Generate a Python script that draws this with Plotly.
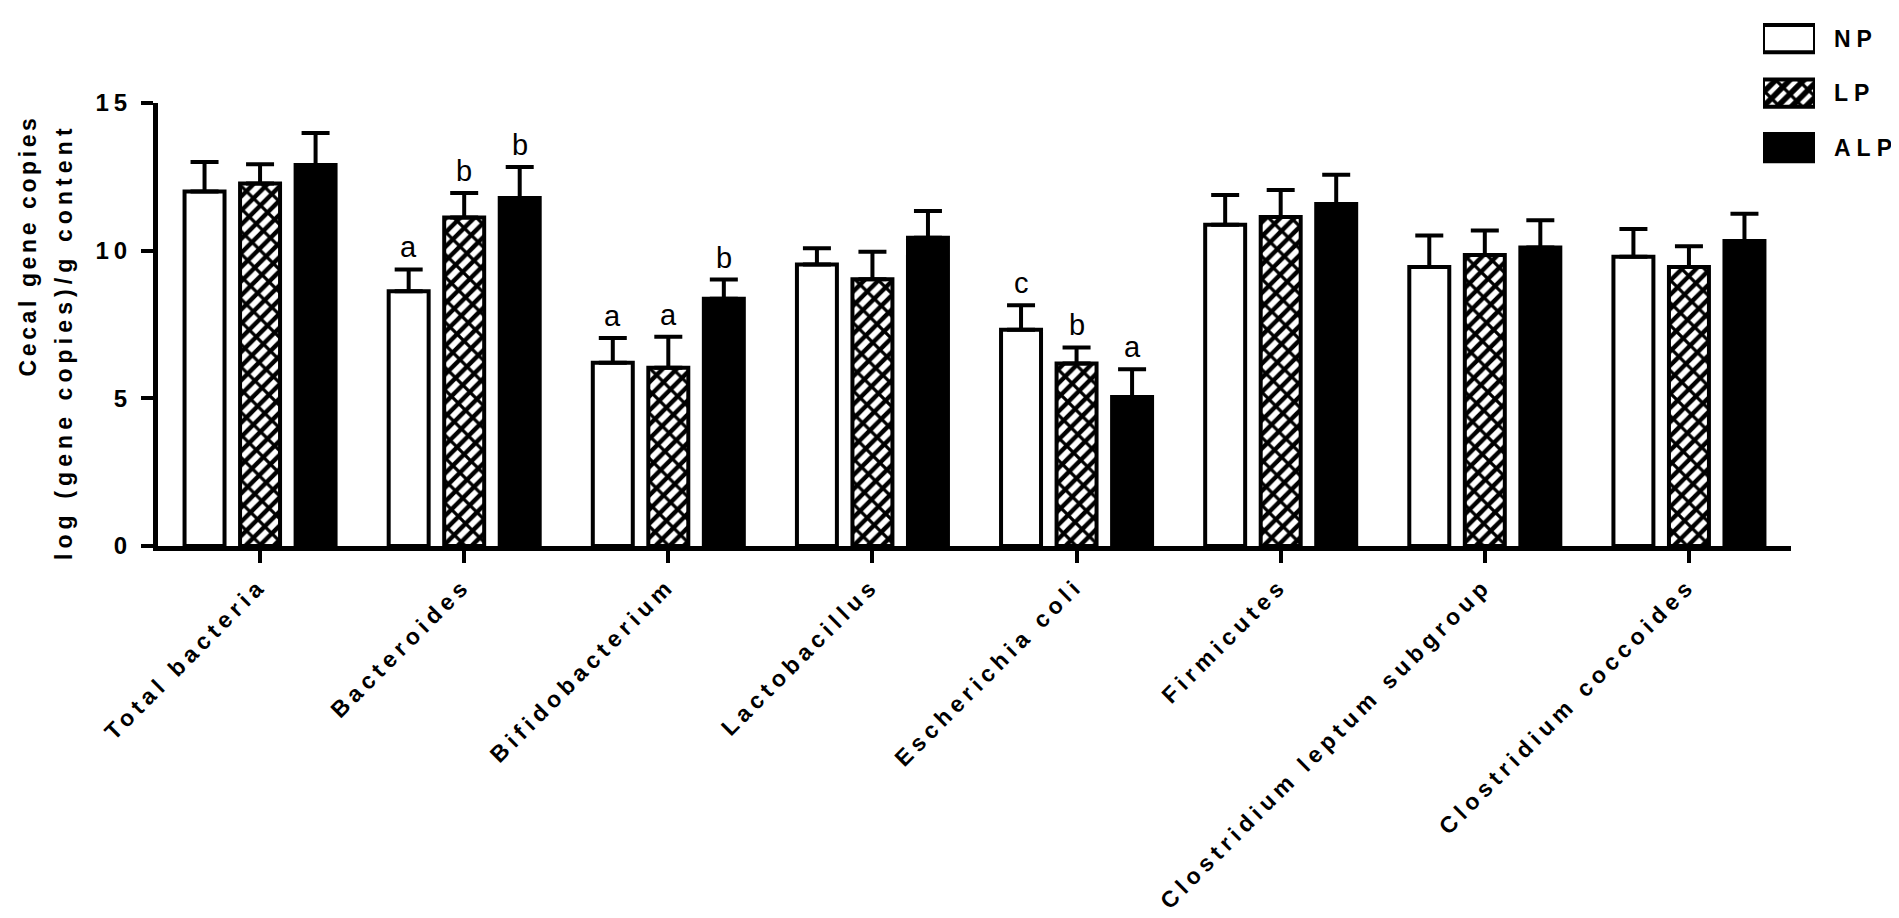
import plotly.graph_objects as go

# cecal bacteria, log(gene copies)/g content, mean and upper SD
categories = ["Total bacteria", "Bacteroides", "Bifidobacterium", "Lactobacillus",
              "Escherichia coli", "Firmicutes", "Clostridium leptum subgroup",
              "Clostridium coccoides"]
groups = ["NP", "LP", "ALP"]

np_mean = [12.0, 8.62, 6.20, 9.53, 7.32, 10.87, 9.44, 9.79]
np_err = [1.0, 0.74, 0.84, 0.55, 0.83, 1.01, 1.07, 0.94]
lp_mean = [12.27, 11.12, 6.03, 9.03, 6.18, 11.14, 9.85, 9.44]
lp_err = [0.65, 0.83, 1.05, 0.93, 0.54, 0.91, 0.83, 0.71]
alp_mean = [12.9, 11.78, 8.37, 10.43, 5.04, 11.58, 10.10, 10.32]
alp_err = [1.08, 1.05, 0.65, 0.91, 0.94, 0.99, 0.93, 0.93]

# significance letters
np_sig = ["", "a", "a", "", "c", "", "", ""]
lp_sig = ["", "b", "a", "", "b", "", "", ""]
alp_sig = ["", "b", "b", "", "a", "", "", ""]

FONT = "Liberation Sans, Arial, sans-serif"
BARGAP = 0.184
outline = dict(color="black", width=4)
brick = dict(shape="/", fgcolor="white", bgcolor="black", size=10, solidity=0.55,
             fillmode="replace")
brick_cut = dict(shape="\\", fgcolor="black", size=16, solidity=0.2, fillmode="replace")
err_style = dict(type="data", symmetric=False, color="black", thickness=4, width=14)

fig = go.Figure()

fig.add_trace(go.Bar(x=categories, y=np_mean, offsetgroup="np",
                     marker=dict(color="white", line=outline),
                     error_y=dict(array=np_err, arrayminus=[0] * 8, **err_style)))
fig.add_trace(go.Bar(x=categories, y=lp_mean, offsetgroup="lp",
                     marker=dict(color="black", line=outline, pattern=brick),
                     error_y=dict(array=lp_err, arrayminus=[0] * 8, **err_style)))
# second layer of the LP hatch, cuts the white stripes into bricks
fig.add_trace(go.Bar(x=categories, y=lp_mean, offsetgroup="lp",
                     marker=dict(color="rgba(0,0,0,0)", line=dict(width=0), pattern=brick_cut)))
fig.add_trace(go.Bar(x=categories, y=alp_mean, offsetgroup="alp",
                     marker=dict(color="black", line=outline),
                     error_y=dict(array=alp_err, arrayminus=[0] * 8, **err_style)))

# legend drawn as a tiny subplot so the swatches can be big
fig.add_trace(go.Bar(x=[1, 1, 1], y=groups, orientation="h", xaxis="x2", yaxis="y2",
                     offset=-0.25, width=0.5,
                     marker=dict(color=["white", "black", "black"], line=outline,
                                 pattern=dict(shape=["", "/", ""], fgcolor="white",
                                              bgcolor="black", size=10, solidity=0.55,
                                              fillmode="replace"))))
fig.add_trace(go.Bar(x=[1, 1, 1], y=groups, orientation="h", xaxis="x2", yaxis="y2",
                     offset=-0.25, width=0.5,
                     marker=dict(color="rgba(0,0,0,0)", line=dict(width=0),
                                 pattern=dict(shape=["", "\\", ""], fgcolor="black",
                                              size=16, solidity=0.2, fillmode="replace"))))

title_font = dict(family=FONT, size=23, color="black", weight="bold")
annotations = [
    dict(text="Cecal gene copies", xref="paper", yref="paper", x=-0.074, y=0.574,
         textangle=-90, showarrow=False, xanchor="center", yanchor="middle",
         font=title_font),
    dict(text="log (gene copies)/g content", xref="paper", yref="paper", x=-0.054, y=0.39,
         textangle=-90, showarrow=False, xanchor="center", yanchor="middle",
         font=title_font),
]
slot = (1 - BARGAP) / 3
for k, (means, errs, sig) in enumerate([(np_mean, np_err, np_sig),
                                        (lp_mean, lp_err, lp_sig),
                                        (alp_mean, alp_err, alp_sig)]):
    for i, s in enumerate(sig):
        if s:
            annotations.append(dict(text=s, x=i + (k - 1) * slot, y=means[i] + errs[i],
                                    xref="x", yref="y", showarrow=False, yanchor="bottom",
                                    yshift=4, font=dict(family=FONT, size=29, color="black")))

fig.update_layout(
    width=1899, height=918,
    margin=dict(l=150, r=0, t=0, b=380),
    paper_bgcolor="white", plot_bgcolor="white",
    barmode="group", bargap=BARGAP, bargroupgap=0.28,
    showlegend=False,
    font=dict(family=FONT, color="black"),
    annotations=annotations,
    xaxis=dict(domain=[0, 1633 / 1749], range=[-0.5, 7.5], showline=True, linewidth=5,
               linecolor="black", ticks="outside", ticklen=12, tickwidth=4,
               tickcolor="black", tickangle=-45, showgrid=False, zeroline=False,
               tickfont=dict(family=FONT, size=23, color="black", weight="bold")),
    yaxis=dict(domain=[0, 455 / 538], range=[0, 15], tickvals=[0, 5, 10, 15],
               showline=True, linewidth=5, linecolor="black", ticks="outside",
               ticklen=12, tickwidth=4, tickcolor="black", showgrid=False,
               zeroline=False, ticklabelstandoff=4,
               tickfont=dict(family=FONT, size=24, color="black", weight="bold")),
    xaxis2=dict(domain=[1605 / 1749, 1657 / 1749], range=[0, 1], anchor="y2",
                visible=False, fixedrange=True),
    yaxis2=dict(domain=[1 - 160 / 538, 1], range=[2.554, -0.304], anchor="x2",
                type="category", side="right", showline=False, showgrid=False,
                zeroline=False, ticks="", ticklabelstandoff=18,
                tickfont=dict(family=FONT, size=23, color="black", weight="bold")),
)

letter_css = """
var s = document.createElement('style');
s.textContent = '.xtick text, .ytick text {letter-spacing:5px}' +
  '.y2tick text {letter-spacing:6px}' +
  '.annotation[data-index="0"] text {letter-spacing:3.6px}' +
  '.annotation[data-index="1"] text {letter-spacing:5.1px}';
document.head.appendChild(s);
"""

fig.write_html("out.html", post_script=letter_css)
